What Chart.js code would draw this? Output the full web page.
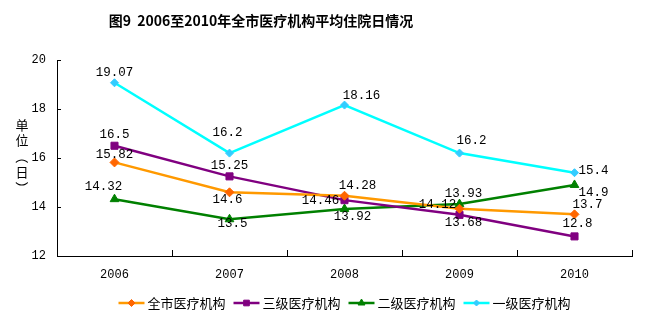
<!DOCTYPE html>
<html>
<head>
  <meta charset="utf-8">
  <title>图9 2006至2010年全市医疗机构平均住院日情况</title>
  <script src="https://cdn.jsdelivr.net/npm/chart.js"></script>
  <style>
    html, body { margin: 0; padding: 0; background: #fff; }
    canvas { display: block; }
  </style>
</head>
<body>
  <canvas id="chart" width="647" height="322"></canvas>
  <script>
    // data
    const years = ["2006", "2007", "2008", "2009", "2010"];
    const cityAll = [15.82, 14.6, 14.46, 13.93, 13.7];
    const level3 = [16.5, 15.25, 14.28, 13.68, 12.8];
    const level2 = [14.32, 13.5, 13.92, 14.12, 14.9];
    const level1 = [19.07, 16.2, 18.16, 16.2, 15.4];
    const seriesNames = ["全市医疗机构", "三级医疗机构", "二级医疗机构", "一级医疗机构"];
    const yTicks = [12, 14, 16, 18, 20];

    const titleText = "图9  2006至2010年全市医疗机构平均住院日情况";
    const yTitleChars = ["单", "位", "（", "日", "）"];

    // where each value label sits relative to its point (dx, dy)
    const labelOffsets = [
      [[0, -8], [-2, 7], [-24, 5], [4, -15], [13, -10]],
      [[0, -11], [0, -11], [13, -14], [4, 8], [3, -13]],
      [[-11, -12], [3, 4], [8, 8], [-22, 1], [19, 8]],
      [[0, -10], [-2, -20], [17, -9], [12, -12], [19, -2]]
    ];

    const numFont = "12.5px 'Liberation Mono', monospace";
    const cjkFont = "'Noto Sans CJK SC', sans-serif";

    const valueLabels = {
      id: "valueLabels",
      afterDatasetsDraw(chart) {
        const ctx = chart.ctx;
        ctx.save();
        ctx.font = numFont;
        ctx.fillStyle = "#000";
        ctx.textAlign = "center";
        ctx.textBaseline = "middle";
        chart.data.datasets.forEach((ds, i) => {
          chart.getDatasetMeta(i).data.forEach((pt, j) => {
            const off = labelOffsets[i][j];
            ctx.fillText(String(ds.data[j]), pt.x + off[0], pt.y + off[1]);
          });
        });
        ctx.restore();
      }
    };

    const decorations = {
      id: "decorations",
      afterDraw(chart) {
        const ctx = chart.ctx;
        const area = chart.chartArea;
        const y = chart.scales.y;
        ctx.save();

        // title
        ctx.fillStyle = "#000";
        ctx.font = "bold 14px " + cjkFont;
        ctx.textAlign = "center";
        ctx.textBaseline = "middle";
        ctx.fillText(titleText, 261, 21);

        // vertical axis title, upright characters, brackets turned
        ctx.font = "13px " + cjkFont;
        const ys = [125, 140, 157, 172, 188];
        yTitleChars.forEach((c, k) => {
          if (c === "（" || c === "）") {
            ctx.save();
            ctx.translate(22, ys[k]);
            ctx.rotate(Math.PI / 2);
            ctx.fillText(c, 0, 0);
            ctx.restore();
          } else {
            ctx.fillText(c, 22, ys[k]);
          }
        });

        // inside tick marks
        ctx.strokeStyle = "#000";
        ctx.lineWidth = 1;
        ctx.beginPath();
        yTicks.forEach(v => {
          const py = Math.round(y.getPixelForValue(v)) + 0.5;
          ctx.moveTo(area.left, py);
          ctx.lineTo(area.left + 4, py);
        });
        const step = (area.right - area.left) / years.length;
        for (let k = 1; k <= years.length; k++) {
          const px = Math.round(area.left + k * step) + 0.5;
          ctx.moveTo(px, area.bottom);
          ctx.lineTo(px, area.bottom - 6);
        }
        ctx.stroke();

        // legend
        ctx.font = "13px " + cjkFont;
        ctx.textAlign = "left";
        const lineLen = 26, gapText = 3, gapItem = 8;
        const widths = seriesNames.map(n => lineLen + gapText + ctx.measureText(n).width);
        const total = widths.reduce((a, b) => a + b, 0) + gapItem * (widths.length - 1);
        let lx = (area.left + area.right) / 2 - total / 2;
        const ly = 303;
        chart.data.datasets.forEach((ds, i) => {
          ctx.strokeStyle = ds.borderColor;
          ctx.lineWidth = 2.5;
          ctx.beginPath();
          ctx.moveTo(lx, ly);
          ctx.lineTo(lx + lineLen, ly);
          ctx.stroke();
          ctx.fillStyle = ds.pointBackgroundColor;
          ctx.strokeStyle = ds.pointBorderColor;
          ctx.lineWidth = 1;
          Chart.helpers.drawPoint(ctx, {
            pointStyle: ds.pointStyle,
            radius: ds.pointRadius - 1,
            borderWidth: 1
          }, lx + lineLen / 2, ly);
          ctx.fillStyle = "#000";
          ctx.fillText(seriesNames[i], lx + lineLen + gapText, ly);
          lx += widths[i] + gapItem;
        });
        ctx.restore();
      }
    };

    function series(label, data, line, marker, style, radius) {
      return {
        label: label,
        data: data,
        borderColor: line,
        borderWidth: 2.5,
        pointStyle: style,
        pointRadius: radius,
        pointHoverRadius: radius,
        pointBackgroundColor: marker,
        pointBorderColor: marker,
        pointBorderWidth: 1,
        tension: 0,
        fill: false
      };
    }

    new Chart(document.getElementById("chart"), {
      type: "line",
      data: {
        labels: years,
        datasets: [
          series(seriesNames[0], cityAll, "#FF9900", "#FF6600", "rectRot", 4.5),
          series(seriesNames[1], level3, "#800080", "#800080", "rect", 5),
          series(seriesNames[2], level2, "#008000", "#008000", "triangle", 5),
          series(seriesNames[3], level1, "#00FFFF", "#33CCFF", "rectRot", 4)
        ]
      },
      options: {
        responsive: false,
        animation: false,
        devicePixelRatio: 1,
        layout: { padding: { top: 60, right: 15, left: 0, bottom: 0 } },
        plugins: {
          legend: { display: false },
          title: { display: false },
          tooltip: { enabled: false }
        },
        scales: {
          x: {
            offset: true,
            grid: { display: false, drawTicks: false },
            border: { color: "#000", width: 1 },
            ticks: { color: "#000", font: { family: "'Liberation Mono', monospace", size: 12 }, padding: 12 },
            afterFit(scale) { scale.height = 66; }
          },
          y: {
            min: 12,
            max: 20,
            grid: { display: false, drawTicks: false },
            border: { color: "#000", width: 1 },
            afterBuildTicks(scale) { scale.ticks = yTicks.map(v => ({ value: v })); },
            ticks: { color: "#000", font: { family: "'Liberation Mono', monospace", size: 12 }, padding: 11 },
            afterFit(scale) { scale.width = 57; }
          }
        }
      },
      plugins: [valueLabels, decorations]
    });
  </script>
</body>
</html>
